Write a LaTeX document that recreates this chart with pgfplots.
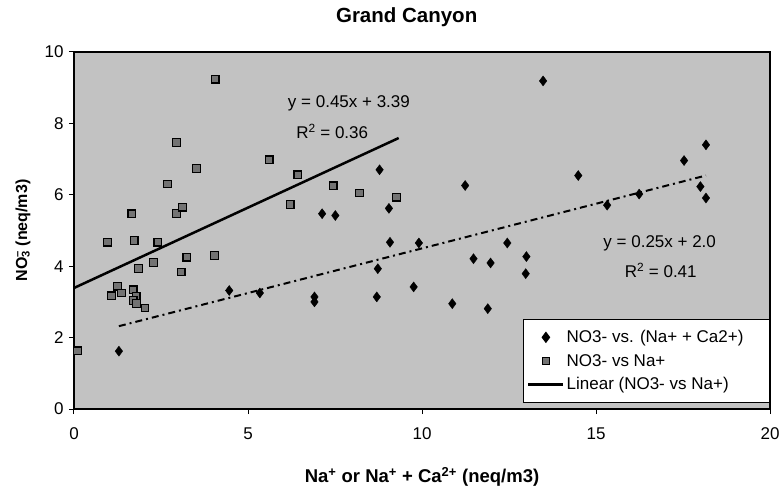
\documentclass[border=0pt]{standalone}
\usepackage{pgfplots}
\pgfplotsset{compat=1.18}
\usepackage{fontspec}
\setmainfont{Liberation Sans}
\pgfplotstableread{
x y
0.10 1.63
0.96 4.67
1.08 3.17
1.25 3.44
1.36 3.25
1.66 5.47
1.70 3.34
1.73 4.72
1.79 3.16
1.70 3.04
1.80 2.95
1.85 3.94
2.04 2.83
2.28 4.10
2.41 4.67
2.69 6.30
2.94 7.47
2.94 5.48
3.08 3.84
3.12 5.65
3.24 4.25
3.52 6.74
4.04 4.30
4.06 9.24
5.61 6.98
6.21 5.73
6.43 6.56
7.45 6.25
8.20 6.05
9.27 5.93
}\natable
\pgfplotstableread{
x y
1.29 1.62
4.46 3.32
5.34 3.25
6.91 3.14
6.91 3.00
7.13 5.47
7.51 5.42
8.70 3.14
8.73 3.93
8.78 6.70
9.05 5.62
9.08 4.67
9.76 3.42
9.91 4.65
10.87 2.95
11.24 6.26
11.48 4.21
11.89 2.81
11.97 4.09
12.45 4.65
12.98 3.79
13.00 4.27
13.48 9.19
14.49 6.54
15.32 5.71
16.24 6.02
17.53 6.96
18.00 6.23
18.16 5.91
18.16 7.40
}\nacatable
\begin{document}
\begin{tikzpicture}
\begin{axis}[
  scale only axis,
  width=696pt, height=357pt,
  xmin=0, xmax=20, ymin=0, ymax=10,
  xtick={0,5,10,15,20}, ytick={0,2,4,6,8,10},
  tick align=outside, tick pos=left,
  major tick length=5pt,
  axis line style={line width=1.2pt},
  every tick/.style={black, line width=1pt},
  axis background/.style={fill=black!24},
  /pgf/number format/assume math mode=true,
  tick label style={font=\fontsize{17}{20}\selectfont},
  xticklabel style={yshift=-10pt},
  yticklabel style={xshift=-2pt},
  title={Grand Canyon},
  title style={at={(0.478,1)}, anchor=center, yshift=28.7pt, font=\bfseries\fontsize{20.5}{24}\selectfont},
  xlabel={\textbf{Na\textsuperscript{+} or Na\textsuperscript{+} + Ca\textsuperscript{2+} (neq/m3)}},
  ylabel={\textbf{NO\rlap{\textsubscript{3}}\textsuperscript{–} (neq/m3)}},
  xlabel style={font=\fontsize{18.5}{22}\selectfont, at={(axis description cs:0.5,-0.1896)}, anchor=center},
  ylabel style={font=\fontsize{16}{19}\selectfont, at={(axis description cs:-0.0733,0.5)}, anchor=center},
  legend style={at={(1,0.017)}, anchor=south east, fill=white, draw=black, line width=1pt,
     font=\fontsize{17}{20}\selectfont, row sep=6pt, inner xsep=4pt, inner ysep=9pt,
     /tikz/every even column/.append style={column sep=0pt}},
  legend cell align=left,
  legend image code/.code={\draw[#1, mark repeat=2, mark phase=2] plot coordinates {(0pt,0pt) (17.5pt,0pt) (35pt,0pt)};},
]
\addplot[only marks, mark=diamond*, mark size=5pt, black, mark options={fill=black}] table {\nacatable};
\addlegendentry{NO3- vs. (Na+ + Ca2+)\rule{20pt}{0pt}}
\addplot[only marks, mark=square*, mark size=3.8pt, black, mark options={fill=black!55, line width=1.2pt}] table {\natable};
\addlegendentry{NO3- vs Na+}
\addplot[black, line width=2.5pt] coordinates {(0,3.39) (9.33,7.59)};
\addlegendentry{Linear (NO3- vs Na+)}
\addplot[black, line width=2pt, dash pattern=on 7pt off 4pt on 2pt off 4pt, forget plot] coordinates {(1.29,2.32) (18.16,6.54)};
\node[font=\fontsize{17}{20}\selectfont] at (axis cs:7.9,8.55) {y = 0.45x + 3.39};
\node[font=\fontsize{17}{20}\selectfont] at (axis cs:7.42,7.77) {R\textsuperscript{2} = 0.36};
\node[font=\fontsize{17}{20}\selectfont] at (axis cs:16.83,4.64) {y = 0.25x + 2.0};
\node[font=\fontsize{17}{20}\selectfont] at (axis cs:16.86,3.88) {R\textsuperscript{2} = 0.41};
\end{axis}
\path (-74pt,-83pt) rectangle (709pt,409pt);
\end{tikzpicture}
\end{document}
